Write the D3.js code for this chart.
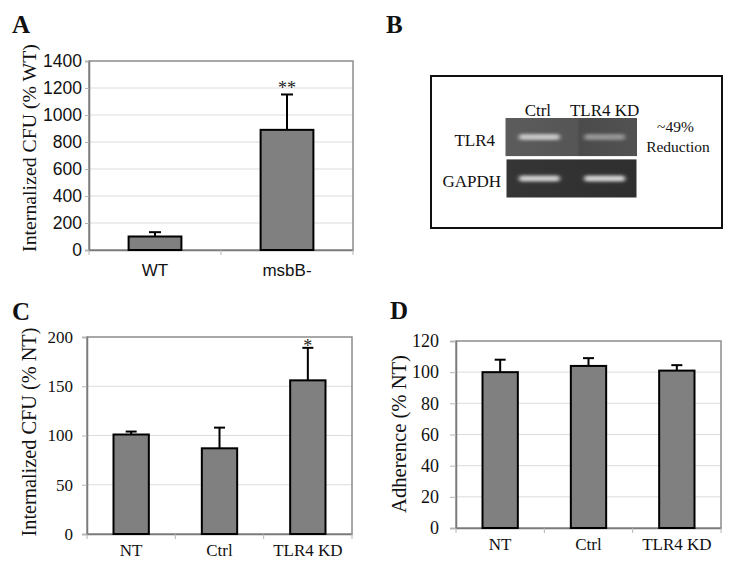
<!DOCTYPE html>
<html><head><meta charset="utf-8">
<script src="https://cdn.jsdelivr.net/npm/d3@7"></script>
<style>body{margin:0;background:#fff}svg{display:block}</style>
</head><body>
<svg id="chart" width="742" height="567"></svg>
<script>
// ---- Data ----
const aCategories = ["WT", "msbB-"];
const aValues = [100, 890];
const aErrors = [32, 262];
const aMarks = ["", "**"];
const aTicks = [0, 200, 400, 600, 800, 1000, 1200, 1400];

const cCategories = ["NT", "Ctrl", "TLR4 KD"];
const cValues = [101, 87, 156];
const cErrors = [3, 21, 33];
const cMarks = ["", "", "*"];
const cTicks = [0, 50, 100, 150, 200];

const dCategories = ["NT", "Ctrl", "TLR4 KD"];
const dValues = [100, 104, 101];
const dErrors = [8, 5, 3.5];
const dMarks = ["", "", ""];
const dTicks = [0, 20, 40, 60, 80, 100, 120];

const gelLanes = ["Ctrl", "TLR4 KD"];
const gelGenes = ["TLR4", "GAPDH"];
const gelIntensity = [[0.72, 0.4], [0.8, 0.82]];

const svg = d3.select("#chart");
const SERIF = "'Liberation Serif','Times New Roman',serif";
const SANS = "'Liberation Sans',Arial,sans-serif";

function panelLetter(t, x, y) {
  svg.append("text").attr("x", x).attr("y", y).text(t)
    .attr("font-family", SERIF).attr("font-weight", "bold").attr("font-size", 25).attr("fill", "#111");
}

function barPanel(o) {
  const g = svg.append("g");
  const x = d3.scaleBand().domain(o.cats).range([o.left, o.right]).padding(0);
  const y = d3.scaleLinear().domain([0, o.max]).range([o.bottom, o.top]);
  // grid
  g.selectAll(".grid").data(o.ticks.filter(t => t > 0 && t < o.max)).join("line")
    .attr("x1", o.left).attr("x2", o.right).attr("y1", d => y(d)).attr("y2", d => y(d))
    .attr("stroke", "#dcdcdc").attr("stroke-width", 1);
  // frame
  g.append("rect").attr("x", o.left).attr("y", o.top).attr("width", o.right - o.left).attr("height", o.bottom - o.top)
    .attr("fill", "none").attr("stroke", "#8c8c8c").attr("stroke-width", 1.5);
  // y axis
  const ya = d3.axisLeft(y).tickValues(o.ticks).tickSize(o.tickLen).tickPadding(o.tickPad).tickFormat(d3.format("d"));
  const yg = g.append("g").attr("transform", `translate(${o.left},0)`).call(ya);
  yg.select(".domain").attr("stroke", "#7a7a7a").attr("stroke-width", 1.5);
  yg.selectAll(".tick line").attr("stroke", "#b5b5b5");
  yg.selectAll("text").attr("font-family", o.tickFont).attr("font-size", o.tickSize).attr("fill", "#111");
  // x axis
  const xa = d3.axisBottom(x).tickSize(0).tickPadding(o.xPad);
  const xg = g.append("g").attr("transform", `translate(0,${o.bottom})`).call(xa);
  xg.select(".domain").attr("stroke", "#7a7a7a").attr("stroke-width", 1.5);
  xg.selectAll("text").attr("font-family", o.xFont).attr("font-size", o.xSize).attr("fill", "#111");
  // category separators
  g.selectAll(".sep").data(o.cats.concat(["__end"])).join("line")
    .attr("x1", (d, i) => o.left + i * x.step()).attr("x2", (d, i) => o.left + i * x.step())
    .attr("y1", o.bottom).attr("y2", o.bottom + 5).attr("stroke", "#b5b5b5");
  const bw = x.bandwidth() * 0.4;
  const cx = d => x(d) + x.bandwidth() / 2;
  // error bars
  g.selectAll(".err").data(o.cats).join("line")
    .attr("x1", cx).attr("x2", cx).attr("y1", (d, i) => y(o.vals[i])).attr("y2", (d, i) => y(o.vals[i] + o.errs[i]))
    .attr("stroke", "#000").attr("stroke-width", 2);
  g.selectAll(".cap").data(o.cats).join("line")
    .attr("x1", d => cx(d) - o.cap / 2).attr("x2", d => cx(d) + o.cap / 2)
    .attr("y1", (d, i) => y(o.vals[i] + o.errs[i])).attr("y2", (d, i) => y(o.vals[i] + o.errs[i]))
    .attr("stroke", "#000").attr("stroke-width", 2);
  // bars
  g.selectAll(".bar").data(o.cats).join("rect")
    .attr("x", d => cx(d) - bw / 2).attr("width", bw)
    .attr("y", (d, i) => y(o.vals[i])).attr("height", (d, i) => o.bottom - y(o.vals[i]))
    .attr("fill", "#808080").attr("stroke", "#000").attr("stroke-width", 2);
  // significance
  g.selectAll(".sig").data(o.cats).join("text")
    .attr("x", cx).attr("y", (d, i) => y(o.vals[i] + o.errs[i]) + o.sigDy)
    .attr("text-anchor", "middle").attr("font-family", SERIF).attr("font-size", 18).attr("fill", "#222")
    .text((d, i) => o.marks[i]);
  // y title, fitted to the reference length
  const tt = g.append("text").attr("transform", `translate(${o.titleX},${o.titleMid}) rotate(-90)`)
    .attr("text-anchor", "middle").attr("dominant-baseline", "central")
    .attr("font-family", SERIF).attr("font-size", 20).attr("fill", "#111").text(o.title);
  const len = tt.node().getComputedTextLength();
  if (len > 0) tt.attr("font-size", 20 * o.titleLen / len);
}

// Panel A
panelLetter("A", 12, 33);
barPanel({cats: aCategories, vals: aValues, errs: aErrors, marks: aMarks, ticks: aTicks, max: 1400,
  left: 89, right: 353, top: 61, bottom: 250, tickFont: SANS, tickSize: 17.5, tickLen: 4, tickPad: 3,
  xFont: SANS, xSize: 17, xPad: 14, cap: 12, sigDy: 0, title: "Internalized CFU (% WT)",
  titleX: 29, titleMid: 148, titleLen: 208});

// Panel C
panelLetter("C", 12, 320);
barPanel({cats: cCategories, vals: cValues, errs: cErrors, marks: cMarks, ticks: cTicks, max: 200,
  left: 87, right: 352, top: 337, bottom: 534, tickFont: SERIF, tickSize: 17, tickLen: 5, tickPad: 9,
  xFont: SERIF, xSize: 17, xPad: 10, cap: 11, sigDy: 4, title: "Internalized CFU (% NT)",
  titleX: 29, titleMid: 432, titleLen: 209});

// Panel D
panelLetter("D", 390, 319);
barPanel({cats: dCategories, vals: dValues, errs: dErrors, marks: dMarks, ticks: dTicks, max: 120,
  left: 456, right: 721, top: 341, bottom: 528, tickFont: SERIF, tickSize: 18, tickLen: 6, tickPad: 11,
  xFont: SERIF, xSize: 17, xPad: 10, cap: 11, sigDy: 0, title: "Adherence (% NT)",
  titleX: 399, titleMid: 434, titleLen: 158});

// Panel B (gel)
panelLetter("B", 386, 33);
const defs = svg.append("defs");
defs.append("filter").attr("id", "blur").attr("x", "-30%").attr("y", "-150%").attr("width", "160%").attr("height", "400%")
  .append("feGaussianBlur").attr("stdDeviation", "2 1.6");
const gr1 = defs.append("linearGradient").attr("id", "gel1");
gr1.append("stop").attr("offset", "0%").attr("stop-color", "#5c5c5c");
gr1.append("stop").attr("offset", "55%").attr("stop-color", "#555");
gr1.append("stop").attr("offset", "56%").attr("stop-color", "#4b4b4b");
gr1.append("stop").attr("offset", "100%").attr("stop-color", "#525252");
const gr2 = defs.append("linearGradient").attr("id", "gel2");
gr2.append("stop").attr("offset", "0%").attr("stop-color", "#353535");
gr2.append("stop").attr("offset", "100%").attr("stop-color", "#2f2f2f");

svg.append("rect").attr("x", 431).attr("y", 76).attr("width", 291).attr("height", 152)
  .attr("fill", "#fff").attr("stroke", "#111").attr("stroke-width", 2);

const laneX = d3.scaleBand().domain(gelLanes).range([510, 634]).paddingInner(0.1).paddingOuter(0);
const geneY = d3.scaleBand().domain(gelGenes).range([118, 197.5]).paddingInner(0.08);
const gel = svg.append("g");
gel.selectAll(".gelbg").data(gelGenes).join("rect")
  .attr("x", (d, i) => i === 0 ? 505.5 : 506.5).attr("width", (d, i) => i === 0 ? 131.5 : 130)
  .attr("y", d => geneY(d)).attr("height", geneY.bandwidth())
  .attr("fill", (d, i) => `url(#gel${i + 1})`);
gelGenes.forEach((gene, gi) => {
  gel.selectAll(".band" + gi).data(gelLanes).join("rect")
    .attr("x", d => laneX(d) + 9).attr("width", laneX.bandwidth() - 18)
    .attr("y", geneY(gene) + geneY.bandwidth() * 0.5 - 3).attr("height", 6)
    .attr("rx", 2.5)
    .attr("fill", (d, li) => d3.interpolateRgb(gi === 0 ? "#555" : "#333", "#f2f2f2")(gelIntensity[gi][li]))
    .attr("filter", "url(#blur)");
});
svg.selectAll(".lane").data(gelLanes).join("text")
  .attr("x", d => laneX(d) + laneX.bandwidth() / 2 - (d === "Ctrl" ? 1.5 : 0)).attr("y", 116)
  .attr("text-anchor", "middle").attr("font-family", SERIF).attr("font-size", 17).attr("fill", "#111").text(d => d);
svg.selectAll(".gene").data(gelGenes).join("text")
  .attr("x", (d, i) => i === 0 ? 495 : 501).attr("y", (d, i) => i === 0 ? 146 : 187)
  .attr("text-anchor", "end")
  .attr("font-family", SERIF).attr("font-size", 17).attr("fill", "#111").text(d => d);
svg.append("text").attr("x", 675.5).attr("y", 132).attr("text-anchor", "middle")
  .attr("font-family", SERIF).attr("font-size", 15.5).attr("fill", "#111").text("~49%");
svg.append("text").attr("x", 678).attr("y", 152).attr("text-anchor", "middle")
  .attr("font-family", SERIF).attr("font-size", 15.5).attr("fill", "#111").text("Reduction");
</script>
</body></html>
